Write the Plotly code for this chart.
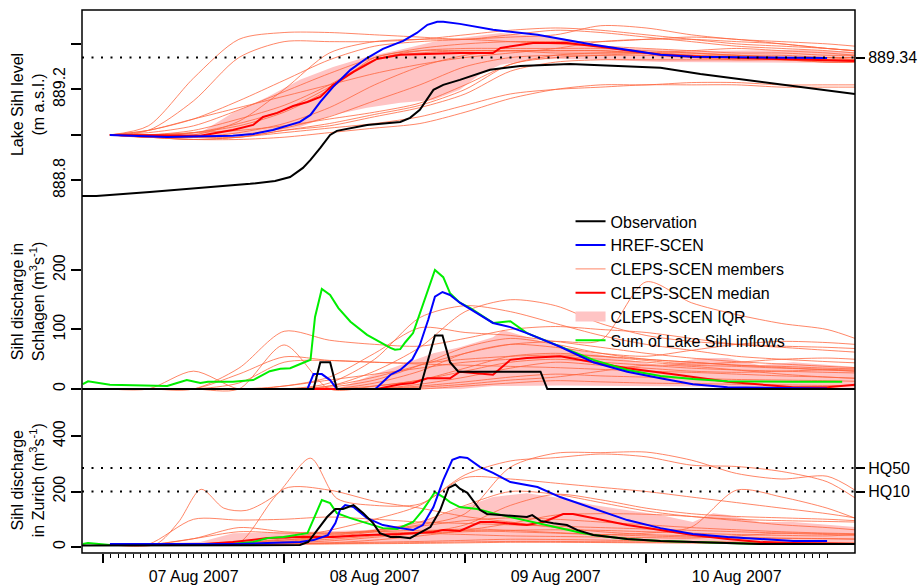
import pandas as pd
import plotly.graph_objects as go

BASE = pd.Timestamp("2007-08-07 00:00")
x_range_hours = [-2.8, 99.7]
grid_h = [0.9, 6, 12, 18, 24, 30, 36, 42, 48, 54, 60, 66, 72, 78, 84, 90, 96, 99.7]

# ---------------- Lake Sihl level (m a.s.l.) ----------------
obs_lvl_h = [-2.8, -0.9, 6.2, 12.9, 19.5, 22.8, 24.8, 26.5, 27.5, 28.8, 30.1, 31.0, 32.8, 35.0,
             39.4, 40.7, 42.0, 43.8, 45.1, 47.3, 51.3, 55.3, 61.9, 68.6, 73.9, 79.2, 87.1, 99.7]
obs_lvl_v = [888.732, 888.732, 888.749, 888.767, 888.785, 888.798, 888.815, 888.855, 888.890,
             888.943, 889.000, 889.018, 889.031, 889.044, 889.057, 889.075, 889.110, 889.198,
             889.220, 889.242, 889.286, 889.303, 889.312, 889.303, 889.295, 889.268, 889.233, 889.180]

href_lvl_h = [0.9, 8.5, 17.2, 19.9, 22.5, 24.8, 26.1, 27.5, 28.8, 30.5, 32.8, 35.0, 37.1, 39.8,
              41.6, 43.0, 44.3, 45.1, 47.3, 51.7, 57.6, 65.0, 73.9, 78.2, 96.0]
href_lvl_v = [889.000, 888.991, 888.996, 889.004, 889.022, 889.044, 889.057, 889.088, 889.145,
              889.211, 889.286, 889.338, 889.378, 889.413, 889.448, 889.484, 889.497, 889.497,
              889.488, 889.462, 889.440, 889.396, 889.352, 889.343, 889.338]

med_lvl_h = [0.9, 12.9, 17.2, 19.9, 21.2, 23.1, 25.2, 27.1, 28.8, 30.5, 33.2, 36.3, 39.4, 43.0,
             47.3, 51.7, 52.7, 57.0, 61.5, 65.9, 73.9, 79.2, 92.4, 99.7]
med_lvl_v = [889.000, 888.996, 889.022, 889.044, 889.079, 889.097, 889.127, 889.145, 889.167,
             889.220, 889.277, 889.334, 889.352, 889.356, 889.360, 889.360, 889.382, 889.404,
             889.404, 889.387, 889.352, 889.343, 889.330, 889.325]

iqr_hi_lvl_h = [0.9, 12.9, 17.2, 21.8, 26.1, 30.5, 35.0, 39.4, 43.8, 47.3, 52.7, 60.6, 68.6, 79.2, 92.4, 99.7]
iqr_hi_lvl_v = [889.000, 889.009, 889.097, 889.167, 889.242, 889.299, 889.343, 889.374, 889.409,
                889.426, 889.448, 889.426, 889.382, 889.369, 889.374, 889.365]
iqr_lo_lvl_h = [0.9, 12.9, 21.8, 26.1, 30.5, 35.0, 39.4, 43.8, 47.3, 49.9, 52.7, 56.6, 60.6, 65.9, 73.9, 99.7]
iqr_lo_lvl_v = [889.000, 888.991, 889.013, 889.035, 889.088, 889.119, 889.141, 889.154, 889.198,
                889.264, 889.308, 889.330, 889.334, 889.330, 889.321, 889.316]

lake_members = [
    [889.00, 889.04, 889.25, 889.42, 889.45, 889.45, 889.44, 889.43, 889.42, 889.44, 889.46, 889.45, 889.43, 889.41, 889.39, 889.38, 889.37, 889.36],
    [889.00, 889.02, 889.15, 889.34, 889.41, 889.41, 889.41, 889.42, 889.44, 889.46, 889.47, 889.46, 889.44, 889.42, 889.40, 889.39, 889.38, 889.37],
    [889.00, 889.02, 889.07, 889.15, 889.24, 889.33, 889.39, 889.41, 889.42, 889.43, 889.44, 889.48, 889.47, 889.44, 889.42, 889.41, 889.40, 889.39],
    [889.00, 889.00, 889.00, 889.06, 889.20, 889.36, 889.41, 889.42, 889.42, 889.41, 889.40, 889.39, 889.38, 889.37, 889.36, 889.36, 889.35, 889.35],
    [889.00, 889.01, 889.04, 889.11, 889.19, 889.27, 889.34, 889.38, 889.40, 889.41, 889.41, 889.41, 889.42, 889.43, 889.42, 889.40, 889.38, 889.37],
    [889.00, 889.00, 889.02, 889.07, 889.13, 889.22, 889.33, 889.37, 889.38, 889.38, 889.38, 889.38, 889.37, 889.36, 889.35, 889.35, 889.34, 889.34],
    [889.00, 889.00, 889.01, 889.05, 889.11, 889.21, 889.33, 889.36, 889.37, 889.37, 889.36, 889.36, 889.36, 889.35, 889.35, 889.34, 889.34, 889.34],
    [889.00, 888.99, 889.01, 889.04, 889.10, 889.20, 889.34, 889.37, 889.37, 889.37, 889.37, 889.37, 889.36, 889.35, 889.34, 889.33, 889.33, 889.33],
    [889.00, 888.99, 888.99, 889.01, 889.05, 889.12, 889.22, 889.30, 889.35, 889.37, 889.37, 889.37, 889.36, 889.36, 889.35, 889.34, 889.34, 889.33],
    [889.00, 888.99, 888.99, 889.00, 889.03, 889.08, 889.15, 889.22, 889.30, 889.34, 889.35, 889.35, 889.35, 889.34, 889.33, 889.33, 889.32, 889.32],
    [889.00, 888.99, 888.98, 888.99, 889.02, 889.05, 889.09, 889.13, 889.20, 889.31, 889.34, 889.35, 889.36, 889.37, 889.38, 889.37, 889.36, 889.35],
    [889.00, 888.99, 888.99, 888.99, 889.02, 889.04, 889.08, 889.12, 889.18, 889.28, 889.32, 889.33, 889.33, 889.33, 889.33, 889.33, 889.32, 889.32],
    [889.00, 888.99, 888.98, 888.99, 889.01, 889.03, 889.05, 889.08, 889.13, 889.18, 889.20, 889.21, 889.22, 889.22, 889.22, 889.21, 889.21, 889.21],
    [889.00, 888.99, 888.98, 888.98, 888.99, 889.01, 889.03, 889.05, 889.10, 889.16, 889.20, 889.22, 889.22, 889.23, 889.23, 889.22, 889.22, 889.22],
    [889.00, 889.02, 889.07, 889.12, 889.17, 889.22, 889.27, 889.31, 889.34, 889.36, 889.38, 889.41, 889.42, 889.42, 889.41, 889.40, 889.38, 889.37],
    [889.00, 889.00, 889.01, 889.02, 889.04, 889.07, 889.10, 889.14, 889.22, 889.31, 889.35, 889.36, 889.36, 889.35, 889.34, 889.34, 889.33, 889.33],
]
lake_flood_level = 889.34

# ---------------- Sihl discharge in Schlagen (m3/s) ----------------
obs_sch_h = [-2.8, 27.9, 28.8, 30.1, 31.0, 42.0, 44.0, 45.0, 46.0, 47.1, 58.0, 58.9, 99.7]
obs_sch_v = [0, 0, 45, 45, 0, 0, 90, 90, 45, 29, 29, 0, 0]

href_sch_h = [0.9, 27.1, 27.9, 29.0, 30.1, 31.0, 36.1, 38.1, 39.4, 41.0, 42.0, 43.1, 44.0, 45.0,
              46.0, 47.3, 51.7, 54.0, 56.2, 60.6, 65.0, 69.5, 73.9, 78.2, 82.8, 96.0]
href_sch_v = [0, 0, 25, 25, 15, 0, 0, 24, 32, 50, 74, 116, 155, 163, 158, 145, 111, 104, 94, 71,
              45, 29, 18, 8, 3, 1]

inflow_sch_h = [-2.7, -2.0, 0.9, 8.5, 9.8, 11.1, 12.9, 13.9, 15.1, 17.2, 19.9, 22.1, 23.5, 24.8,
                27.1, 27.5, 28.1, 29.0, 30.1, 31.2, 32.8, 35.0, 38.1, 38.7, 39.4, 40.1, 41.1, 42.0,
                43.0, 44.0, 45.1, 46.0, 47.3, 48.7, 51.7, 54.0, 56.2, 60.6, 65.0, 69.5, 73.9, 78.2,
                82.8, 91.5, 98.0]
inflow_sch_v = [8, 13, 7, 5, 10, 15, 10, 12, 12, 12, 15, 30, 34, 35, 47, 49, 121, 168, 158, 136,
                113, 91, 69, 66, 67, 79, 94, 128, 166, 200, 188, 161, 145, 136, 111, 114, 94, 71,
                49, 32, 22, 17, 13, 12, 12]

med_sch_h = [0.9, 36.3, 39.4, 41.1, 43.0, 46.0, 47.3, 51.7, 54.0, 56.2, 60.6, 65.0, 69.5, 76.1,
             82.8, 91.5, 96.0, 99.7]
med_sch_v = [0, 0, 8, 10, 18, 18, 29, 24, 49, 52, 55, 45, 35, 24, 12, 3, 3, 7]

iqr_hi_sch_h = [0.9, 31.0, 35.0, 39.4, 43.8, 47.3, 51.7, 53.0, 56.2, 60.6, 65.0, 69.5, 73.9, 79.2,
                82.8, 87.1, 91.5, 96.0, 99.7]
iqr_hi_sch_v = [0, 0, 20, 40, 60, 70, 87, 99, 87, 71, 60, 49, 40, 52, 52, 40, 45, 40, 37]
iqr_lo_sch_h = [0.9, 47.3, 51.7, 60.6, 73.9, 99.7]
iqr_lo_sch_v = [0, 0, 5, 6, 4, 2]

schlagen_members = [
    [0, 0, 30, 0, 5, 15, 25, 35, 45, 50, 55, 50, 45, 40, 38, 35, 33, 32],
    [0, 0, 0, 35, 97, 82, 75, 72, 85, 100, 105, 100, 95, 85, 75, 70, 65, 62],
    [0, 0, 0, 25, 54, 48, 45, 44, 50, 55, 57, 55, 50, 45, 40, 38, 35, 34],
    [0, 0, 0, 0, 74, 0, 5, 15, 30, 45, 50, 45, 40, 35, 32, 30, 28, 27],
    [0, 0, 0, 10, 45, 48, 45, 42, 40, 38, 36, 33, 30, 28, 25, 22, 20, 18],
    [0, 0, 0, 0, 5, 20, 60, 103, 95, 90, 80, 70, 60, 52, 46, 42, 38, 36],
    [0, 0, 0, 0, 0, 10, 50, 120, 140, 130, 110, 90, 75, 65, 55, 50, 46, 44],
    [0, 0, 0, 0, 0, 5, 20, 40, 60, 75, 80, 82, 180, 145, 125, 110, 100, 85],
    [0, 0, 0, 0, 0, 5, 30, 70, 130, 150, 140, 110, 90, 80, 75, 72, 70, 68],
    [0, 0, 0, 0, 0, 0, 10, 30, 60, 75, 70, 60, 55, 65, 75, 80, 78, 75],
    [0, 0, 0, 0, 0, 0, 5, 15, 35, 55, 60, 55, 48, 42, 45, 50, 52, 50],
    [0, 0, 0, 0, 0, 0, 0, 8, 20, 35, 45, 40, 35, 30, 28, 30, 32, 30],
    [0, 0, 0, 0, 0, 0, 0, 5, 12, 20, 25, 22, 20, 18, 16, 15, 14, 13],
    [0, 0, 0, 0, 0, 0, 0, 0, 5, 10, 14, 12, 10, 9, 8, 7, 6, 6],
    [0, 0, 0, 0, 0, 3, 15, 40, 70, 85, 75, 60, 50, 45, 40, 36, 32, 30],
    [0, 0, 0, 0, 0, 0, 0, 3, 8, 15, 20, 30, 40, 38, 32, 25, 20, 18],
]

# ---------------- Sihl discharge in Zurich (m3/s) ----------------
obs_zur_h = [-2.8, 12.9, 24.8, 26.1, 27.2, 28.4, 29.7, 30.8, 31.8, 33.2, 34.5, 35.8, 36.7, 38.1,
             39.4, 40.7, 42.0, 43.4, 44.7, 45.8, 46.7, 47.3, 48.3, 50.0, 50.9, 54.0, 56.2, 56.9,
             58.0, 59.7, 61.5, 62.9, 65.0, 69.5, 73.9, 78.2, 82.8, 87.1, 99.7]
obs_zur_v = [5, 5, 6, 7, 18, 61, 108, 137, 137, 151, 122, 86, 50, 36, 36, 32, 50, 72, 133, 213,
             225, 210, 195, 133, 119, 112, 108, 115, 94, 86, 79, 61, 43, 29, 22, 18, 14, 11, 11]

href_zur_h = [0.9, 17.2, 21.8, 26.1, 27.9, 29.8, 30.8, 31.4, 32.1, 33.2, 35.0, 37.1, 39.4, 41.1,
              42.4, 43.8, 45.1, 46.3, 47.3, 48.3, 50.0, 51.7, 54.0, 56.2, 57.6, 60.6, 65.0, 69.5,
              73.9, 78.2, 82.8, 87.1, 91.5, 96.0]
href_zur_v = [11, 11, 14, 18, 25, 43, 86, 133, 151, 144, 104, 79, 68, 61, 79, 144, 241, 314, 324,
              321, 288, 267, 234, 223, 216, 180, 140, 97, 68, 47, 36, 29, 22, 22]

inflow_zur_h = [-2.7, -2.0, 0.9, 10.6, 17.2, 19.9, 21.8, 23.9, 27.1, 29.0, 30.1, 31.0, 32.8, 35.0,
                37.1, 39.0, 41.1, 42.4, 44.0, 45.1, 46.0, 47.3, 49.6, 51.7, 54.0, 56.2, 59.7, 62.9,
                65.0, 69.5, 73.9, 82.8, 87.1, 98.0]
inflow_zur_v = [11, 14, 7, 11, 11, 18, 32, 36, 50, 169, 158, 122, 104, 86, 68, 65, 90, 133, 198,
                180, 162, 144, 137, 122, 108, 94, 72, 54, 43, 29, 22, 14, 11, 11]

med_zur_h = [0.9, 12.9, 17.2, 21.8, 26.1, 30.5, 35.0, 39.4, 43.8, 45.1, 47.3, 50.0, 51.7, 56.2,
             58.4, 61.0, 62.3, 65.0, 69.5, 73.9, 78.2, 82.8, 87.1, 91.5, 99.7]
med_zur_v = [7, 10, 18, 32, 36, 36, 43, 47, 54, 61, 58, 90, 90, 79, 90, 119, 119, 104, 79, 61, 43,
             29, 18, 14, 11]

iqr_hi_zur_h = [0.9, 12.9, 17.2, 26.1, 35.0, 41.6, 47.3, 51.7, 56.2, 60.6, 65.0, 69.5, 73.9, 78.2,
                80.9, 82.8, 87.1, 91.5, 96.0, 99.7]
iqr_hi_zur_v = [7, 18, 50, 54, 61, 86, 140, 180, 194, 177, 151, 133, 115, 90, 122, 115, 90, 90, 79, 72]
iqr_lo_zur_h = [0.9, 17.2, 47.3, 60.6, 99.7]
iqr_lo_zur_v = [7, 11, 18, 18, 11]

zur_member1_h = [0.9, 7, 10, 13, 16, 19, 23, 27.5, 31, 36, 42, 48, 54, 60, 66, 72, 78, 84, 90, 96, 99.7]
zur_member1_v = [8, 10, 90, 208, 140, 132, 190, 320, 175, 150, 155, 250, 245, 230, 215, 200, 180,
                 160, 140, 120, 105]
zurich_members = [
    [8, 10, 100, 97, 100, 108, 100, 90, 85, 80, 75, 70, 65, 60, 55, 50, 45, 42],
    [8, 8, 30, 70, 55, 50, 60, 80, 120, 288, 338, 340, 342, 313, 265, 245, 255, 205],
    [8, 8, 10, 15, 30, 60, 100, 150, 260, 310, 322, 335, 325, 295, 290, 272, 235, 177],
    [8, 8, 10, 20, 35, 45, 55, 60, 60, 55, 50, 45, 50, 72, 205, 180, 140, 104],
    [8, 8, 10, 15, 210, 205, 165, 140, 110, 90, 70, 55, 45, 40, 35, 32, 30, 28],
    [8, 8, 10, 15, 25, 40, 60, 90, 150, 200, 190, 160, 130, 110, 100, 95, 92, 90],
    [8, 8, 10, 15, 25, 35, 45, 50, 55, 60, 62, 60, 55, 50, 45, 42, 40, 45],
    [8, 8, 10, 12, 20, 35, 55, 75, 95, 105, 100, 90, 80, 70, 62, 55, 50, 48],
    [8, 8, 10, 12, 18, 28, 40, 55, 65, 60, 52, 45, 40, 36, 33, 31, 30, 29],
    [8, 8, 9, 10, 12, 14, 17, 20, 24, 28, 27, 25, 22, 20, 18, 17, 16, 15],
    [8, 8, 9, 10, 11, 12, 14, 16, 18, 20, 20, 19, 18, 16, 15, 14, 13, 13],
    [8, 8, 9, 9, 10, 11, 12, 13, 15, 17, 17, 16, 15, 14, 13, 12, 12, 11],
    [8, 8, 30, 55, 50, 50, 55, 50, 45, 40, 38, 36, 34, 32, 40, 50, 48, 45],
    [8, 8, 9, 11, 15, 22, 35, 50, 80, 150, 190, 170, 140, 120, 110, 105, 100, 95],
    [8, 8, 9, 10, 12, 15, 25, 40, 60, 85, 115, 120, 118, 110, 95, 80, 70, 62],
]
hq_values = [285, 200]
hq_labels = ["HQ50", "HQ10"]

# ---------------- styles ----------------
C_OBS, C_HREF, C_MEM, C_MED, C_IQR, C_IN = ("black", "#0000FF", "rgba(255,100,60,0.78)",
                                           "#FF0000", "#FFC4C4", "#00EE00")
FONT = dict(family="Liberation Sans, Arial, Helvetica, sans-serif", size=16, color="black")


def t(hours):
    return [BASE + pd.Timedelta(hours=h) for h in hours]


fig = go.Figure()


def add_panel(yax, obs, href, med, iqr_hi, iqr_lo, members, member_extra=None, inflow=None, legend=False):
    bx = t(iqr_hi[0]) + t(iqr_lo[0])[::-1]
    by = list(iqr_hi[1]) + list(iqr_lo[1])[::-1]
    fig.add_trace(go.Scatter(x=bx, y=by, yaxis=yax, fill="toself", fillcolor=C_IQR,
                             line=dict(width=0, color=C_IQR), mode="lines",
                             showlegend=False, hoverinfo="skip"))
    mems = [(grid_h, m) for m in members]
    if member_extra is not None:
        mems = [member_extra] + mems
    for i, (mh, mv) in enumerate(mems):
        fig.add_trace(go.Scatter(x=t(mh), y=mv, yaxis=yax, mode="lines",
                                 line=dict(color=C_MEM, width=1, shape="spline", smoothing=0.8),
                                 name="CLEPS-SCEN members", legendrank=3,
                                 showlegend=(legend and i == 0)))
    fig.add_trace(go.Scatter(x=t(med[0]), y=med[1], yaxis=yax, mode="lines",
                             line=dict(color=C_MED, width=2), name="CLEPS-SCEN median",
                             legendrank=4, showlegend=legend))
    if inflow is not None:
        fig.add_trace(go.Scatter(x=t(inflow[0]), y=inflow[1], yaxis=yax, mode="lines",
                                 line=dict(color=C_IN, width=2), name="Sum of Lake Sihl inflows",
                                 legendrank=6, showlegend=(yax == "y2")))
    fig.add_trace(go.Scatter(x=t(href[0]), y=href[1], yaxis=yax, mode="lines",
                             line=dict(color=C_HREF, width=2), name="HREF-SCEN",
                             legendrank=2, showlegend=legend))
    fig.add_trace(go.Scatter(x=t(obs[0]), y=obs[1], yaxis=yax, mode="lines",
                             line=dict(color=C_OBS, width=2), name="Observation",
                             legendrank=1, showlegend=legend))


add_panel("y", (obs_lvl_h, obs_lvl_v), (href_lvl_h, href_lvl_v), (med_lvl_h, med_lvl_v),
          (iqr_hi_lvl_h, iqr_hi_lvl_v), (iqr_lo_lvl_h, iqr_lo_lvl_v), lake_members, legend=True)
add_panel("y2", (obs_sch_h, obs_sch_v), (href_sch_h, href_sch_v), (med_sch_h, med_sch_v),
          (iqr_hi_sch_h, iqr_hi_sch_v), (iqr_lo_sch_h, iqr_lo_sch_v), schlagen_members,
          inflow=(inflow_sch_h, inflow_sch_v))
add_panel("y3", (obs_zur_h, obs_zur_v), (href_zur_h, href_zur_v), (med_zur_h, med_zur_v),
          (iqr_hi_zur_h, iqr_hi_zur_v), (iqr_lo_zur_h, iqr_lo_zur_v), zurich_members,
          member_extra=(zur_member1_h, zur_member1_v), inflow=(inflow_zur_h, inflow_zur_v))

# legend-only entry for the IQR band
fig.add_trace(go.Scatter(x=[None], y=[None], mode="lines", line=dict(color=C_IQR, width=10),
                         name="CLEPS-SCEN IQR", legendrank=5, showlegend=True))
# empty traces so right-hand axes are drawn
fig.add_trace(go.Scatter(x=[None], y=[None], yaxis="y4", showlegend=False, hoverinfo="skip"))
fig.add_trace(go.Scatter(x=[None], y=[None], yaxis="y5", showlegend=False, hoverinfo="skip"))

H = 543.0
dom_top = [(553 - 200) / H, 1.0]
dom_mid = [(553 - 392) / H, (553 - 200) / H]
dom_bot = [0.0, (553 - 395) / H]
rng_top = [888.714, 889.549]
rng_mid = [-5.04, 317.6]
rng_bot = [-21.6, 547.7]

yax_common = dict(ticks="outside", ticklen=10, tickwidth=1.5, tickcolor="black", showgrid=False,
                  zeroline=False, showline=False, tickfont=FONT, tickangle=-90, anchor="x")
minor_ticks = pd.date_range("2007-08-07 00:00", "2007-08-11 00:00", freq="h")

fig.update_layout(
    width=919, height=587,
    margin=dict(l=82, r=64, t=10, b=34, autoexpand=False),
    paper_bgcolor="white", plot_bgcolor="white", font=FONT,
    legend=dict(x=0.632, y=0.642, xanchor="left", yanchor="top", bgcolor="rgba(0,0,0,0)",
                font=FONT, itemwidth=30, tracegroupgap=0),
    xaxis=dict(type="date", domain=[0, 1], anchor="y3", range=t(x_range_hours),
               ticks="outside", ticklen=9, tickwidth=1.5, tickcolor="black",
               dtick=86400000, tick0="2007-08-07", tickformat="%d %b %Y", ticklabelmode="period",
               showgrid=False, zeroline=False, showline=False, tickfont=FONT,
               minor=dict(tickmode="array", tickvals=list(minor_ticks), ticks="outside", ticklen=4,
                          tickwidth=1, tickcolor="black", showgrid=False)),
    yaxis=dict(domain=dom_top, range=rng_top, tickvals=[888.8, 889.2],
               minor=dict(tickmode="array", tickvals=[889.0, 889.4], ticks="outside", ticklen=10,
                          tickwidth=1.5, tickcolor="black", showgrid=False),
               **yax_common),
    yaxis2=dict(domain=dom_mid, range=rng_mid, tickvals=[0, 100, 200], **yax_common),
    yaxis3=dict(domain=dom_bot, range=rng_bot, tickvals=[0, 200, 400], **yax_common),
    yaxis4=dict(overlaying="y", side="right", anchor="x", range=rng_top,
                tickvals=[lake_flood_level], ticktext=["889.34"], ticks="outside", ticklen=9,
                tickwidth=1.5, tickcolor="black", showgrid=False, zeroline=False, tickfont=FONT),
    yaxis5=dict(overlaying="y3", side="right", anchor="x", range=rng_bot,
                tickvals=hq_values, ticktext=hq_labels, ticks="outside", ticklen=9,
                tickwidth=1.5, tickcolor="black", showgrid=False, zeroline=False, tickfont=FONT),
)

dot = dict(color="black", width=2, dash="2px,7.5px")
shapes = [dict(type="line", xref="paper", x0=0, x1=1, yref="y", y0=lake_flood_level,
               y1=lake_flood_level, line=dot)]
for v in hq_values:
    shapes.append(dict(type="line", xref="paper", x0=0, x1=1, yref="y3", y0=v, y1=v, line=dot))
shapes.append(dict(type="rect", xref="paper", yref="paper", x0=0, x1=1, y0=0, y1=1,
                   line=dict(color="black", width=1.5), layer="above"))
fig.update_layout(shapes=shapes)

titles = [("Lake Sihl level<br>(m a.s.l.)", 0.825),
          ("Sihl discharge in<br>Schlagen (m<sup>3</sup>s<sup>-1</sup>)", 0.462),
          ("Sihl discharge<br>in Zurich (m<sup>3</sup>s<sup>-1</sup>)", 0.134)]
for txt, yy in titles:
    fig.add_annotation(text=txt, xref="paper", yref="paper", x=(28 - 82) / 773.0, y=yy,
                       textangle=-90, showarrow=False, font=FONT, xanchor="center",
                       yanchor="middle", align="center")

fig.write_html("out.html")
